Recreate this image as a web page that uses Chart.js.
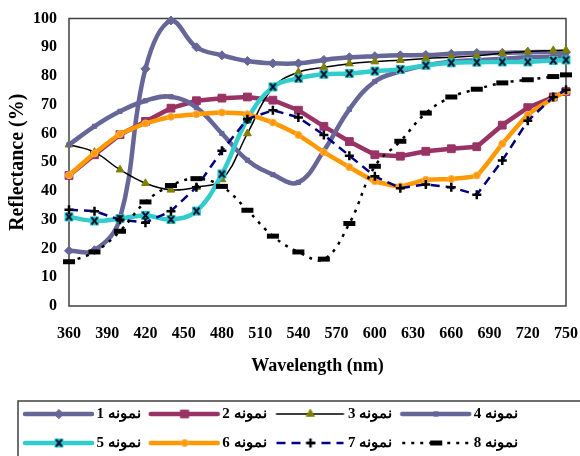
<!DOCTYPE html>
<html>
<head>
<meta charset="utf-8">
<script src="https://cdn.jsdelivr.net/npm/chart.js@4.4.1/dist/chart.umd.min.js"></script>
<style>
  html, body { margin: 0; padding: 0; background: #fff; }
</style>
</head>
<body>
<canvas id="myChart" width="580" height="456"></canvas>
<script>
// wavelength of every measured point (nm)
const wavelengths = [360, 380, 400, 420, 440, 460, 480, 500, 520, 540, 560, 580, 600, 620, 640, 660, 680, 700, 720, 740, 750];
const yTicks = [0, 10, 20, 30, 40, 50, 60, 70, 80, 90, 100];
const xTicks = [360, 390, 420, 450, 480, 510, 540, 570, 600, 630, 660, 690, 720, 750];

const names = ['نمونه 1', 'نمونه 2', 'نمونه 3', 'نمونه 4', 'نمونه 5', 'نمونه 6', 'نمونه 7', 'نمونه 8'];

const sample1 = [19.2, 19.4, 30.5, 82.5, 99.3, 90, 87.2, 85.2, 84.4, 84.4, 85.6, 86.5, 86.9, 87.2, 87.3, 87.7, 88, 88, 88.3, 88.3, 88.3];
const sample2 = [45.4, 52.6, 59.6, 64.2, 68.8, 71.4, 72.3, 72.7, 71.6, 68.1, 62.5, 57.2, 52.6, 52.1, 53.8, 54.7, 55.4, 62.9, 69.0, 72.7, 74.6];
const sample3 = [56.1, 53.5, 47.4, 42.7, 40.4, 41.3, 44, 60, 76, 81.3, 83, 84.3, 85, 85.5, 86.1, 86.5, 87, 87.9, 88.5, 88.9, 89];
const sample4 = [56.1, 62.5, 67.7, 71.4, 72.8, 69, 60, 50.7, 45.7, 43, 54, 68.4, 78.1, 81.6, 83.7, 85, 85.5, 86, 86.5, 86.7, 87];
const sample5 = [31, 29.6, 30.4, 31.5, 30.1, 33, 45.9, 65, 76.2, 79.2, 80.6, 80.9, 81.7, 82.3, 83.7, 84.6, 84.8, 84.9, 84.9, 85.4, 85.6];
const sample6 = [45.5, 53.1, 59.8, 63.5, 65.8, 66.7, 67.3, 66.7, 63.8, 59.5, 53.5, 48.3, 43.4, 41.6, 43.9, 44.2, 45.4, 56.4, 66.5, 72.3, 74.6];
const sample7 = [33.5, 33, 30, 29, 33, 41.3, 54, 65, 68.1, 65.6, 59.5, 52.3, 45.1, 41, 42.3, 41.3, 38.7, 50.6, 64.4, 72.7, 75.2];
const sample8 = [15.4, 18.8, 26, 36.2, 41.9, 44.3, 41.6, 33.3, 24.3, 18.8, 16.3, 28.7, 48.6, 57.3, 67.1, 72.7, 75.4, 77.6, 78.7, 79.8, 80.4];

const serif = '"Liberation Serif", "Times New Roman", serif';

// cyan square with a dark cross, like the excel marker
const boxMarker = () => {
    const c = document.createElement('canvas');
    c.width = 11; c.height = 11;
    const g = c.getContext('2d');
    g.fillStyle = '#33CCCC';
    g.fillRect(1, 1, 9, 9);
    g.strokeStyle = '#001030';
    g.lineWidth = 2;
    g.beginPath();
    g.moveTo(2.5, 2); g.lineTo(8.5, 9);
    g.moveTo(8.5, 2); g.lineTo(2.5, 9);
    g.stroke();
    return c;
};

const styles = [
    { color: '#666699', width: 4.5, dash: [], point: 'rectRot', radius: 4.5, pColor: '#666699', pBorder: '#666699', tension: 0.4 },
    { color: '#993366', width: 4.5, dash: [], point: 'rect', radius: 5.5, pColor: '#993366', pBorder: '#993366', tension: 0 },
    { color: '#000000', width: 1.5, dash: [], point: 'triangle', radius: 4.5, pColor: '#808000', pBorder: '#808000', tension: 0.4 },
    { color: '#666699', width: 4.5, dash: [], point: 'rect', radius: 3, pColor: '#666699', pBorder: '#666699', tension: 0.4 },
    { color: '#33CCCC', width: 4.5, dash: [], point: boxMarker(), radius: 5, pColor: '#33CCCC', pBorder: '#33CCCC', tension: 0.4 },
    { color: '#FF9900', width: 4.5, dash: [], point: 'circle', radius: 3.5, pColor: '#FF9900', pBorder: '#FFB060', tension: 0.15 },
    { color: '#000080', width: 2.5, dash: [9, 6], point: 'cross', radius: 4.5, pColor: '#000000', pBorder: '#000000', tension: 0 },
    { color: '#000000', width: 2.5, dash: [3, 6], point: 'line', radius: 6, pColor: '#000000', pBorder: '#000000', tension: 0.4 }
];

const allData = [sample1, sample2, sample3, sample4, sample5, sample6, sample7, sample8];

const markerBorder = (s) => s.point === 'line' ? 5 : (s.point === 'cross' ? 2.5 : 1);

// legend swatch: a piece of the line with the marker in the middle
const makeSwatch = (s) => {
    const c = document.createElement('canvas');
    c.width = 74; c.height = 16;
    const g = c.getContext('2d');
    g.strokeStyle = s.color;
    g.lineWidth = s.width;
    g.setLineDash(s.dash);
    g.lineCap = s.dash.length ? 'butt' : 'round';
    g.beginPath();
    g.moveTo(3, 8); g.lineTo(70, 8);
    g.stroke();
    g.setLineDash([]);
    g.fillStyle = s.pColor;
    g.strokeStyle = s.pBorder;
    g.lineWidth = markerBorder(s);
    Chart.helpers.drawPoint(g, { pointStyle: s.point, radius: s.radius, rotation: 0, borderWidth: g.lineWidth }, 37, 8);
    return c;
};

const datasets = allData.map((d, i) => ({
    label: names[i],
    data: d,
    borderColor: styles[i].color,
    borderWidth: styles[i].width,
    borderDash: styles[i].dash,
    tension: styles[i].tension,
    pointStyle: styles[i].point,
    pointRadius: styles[i].radius,
    pointBackgroundColor: styles[i].pColor,
    pointBorderColor: styles[i].pBorder,
    pointBorderWidth: markerBorder(styles[i]),
    order: 8 - i,
    clip: false
}));

const swatches = styles.map(makeSwatch);

const framePlugin = {
    id: 'frame',
    beforeDatasetsDraw(chart) {
        const { ctx, chartArea: a } = chart;
        ctx.save();
        ctx.strokeStyle = '#404040';
        ctx.lineWidth = 1.5;
        ctx.strokeRect(a.left, a.top, a.right - a.left, a.bottom - a.top);
        ctx.restore();
    },
    afterDraw(chart) {
        const { ctx, legend } = chart;
        ctx.save();
        ctx.strokeStyle = '#404040';
        ctx.lineWidth = 1.5;
        ctx.strokeRect(legend.left + 3, legend.top + 8.5, 700, 100);
        ctx.restore();
    }
};

new Chart(document.querySelector('#myChart'), {
    type: 'line',
    data: { labels: wavelengths, datasets },
    options: {
        responsive: false,
        animation: false,
        layout: { padding: { left: 15, right: 14, top: 18.5, bottom: -4.5 } },
        scales: {
            x: {
                type: 'linear',
                min: 360,
                max: 750,
                afterBuildTicks: (scale) => { scale.ticks = xTicks.map(v => ({ value: v })); },
                afterFit: (scale) => { scale.height = 86.5; scale.paddingLeft = 0; scale.paddingRight = 0; },
                grid: { display: false, drawTicks: false },
                border: { display: false },
                ticks: { color: '#000', padding: 18, maxRotation: 0, font: { family: serif, size: 16, weight: 'bold' } },
                title: {
                    display: true,
                    text: 'Wavelength (nm)',
                    color: '#000',
                    font: { family: serif, size: 18, weight: 'bold' },
                    padding: { top: 0, bottom: 15 }
                }
            },
            y: {
                min: 0,
                max: 100,
                afterBuildTicks: (scale) => { scale.ticks = yTicks.map(v => ({ value: v })); },
                afterFit: (scale) => { scale.width = 54; scale.paddingTop = 0; scale.paddingBottom = 0; },
                grid: { display: false, drawTicks: false },
                border: { display: false },
                ticks: { color: '#000', padding: 12, font: { family: serif, size: 16, weight: 'bold' } },
                title: {
                    display: true,
                    text: 'Reflectance (%)',
                    color: '#000',
                    font: { family: serif, size: 20, weight: 'bold', lineHeight: 1.2 },
                    padding: { top: -9, bottom: 0 }
                }
            }
        },
        plugins: {
            tooltip: { enabled: false },
            legend: {
                position: 'bottom',
                align: 'start',
                textDirection: 'rtl',
                labels: {
                    usePointStyle: true,
                    pointStyleWidth: 60,
                    padding: 14,
                    color: '#000',
                    font: { family: serif, size: 15, weight: 'bold' },
                    generateLabels: (chart) => chart.data.datasets.map((ds, i) => ({
                        text: ds.label,
                        pointStyle: swatches[i],
                        datasetIndex: i,
                        fontColor: '#000',
                        hidden: false,
                        lineWidth: 0,
                        fillStyle: 'transparent',
                        strokeStyle: 'transparent'
                    }))
                }
            }
        }
    },
    plugins: [framePlugin]
});
</script>
</body>
</html>
